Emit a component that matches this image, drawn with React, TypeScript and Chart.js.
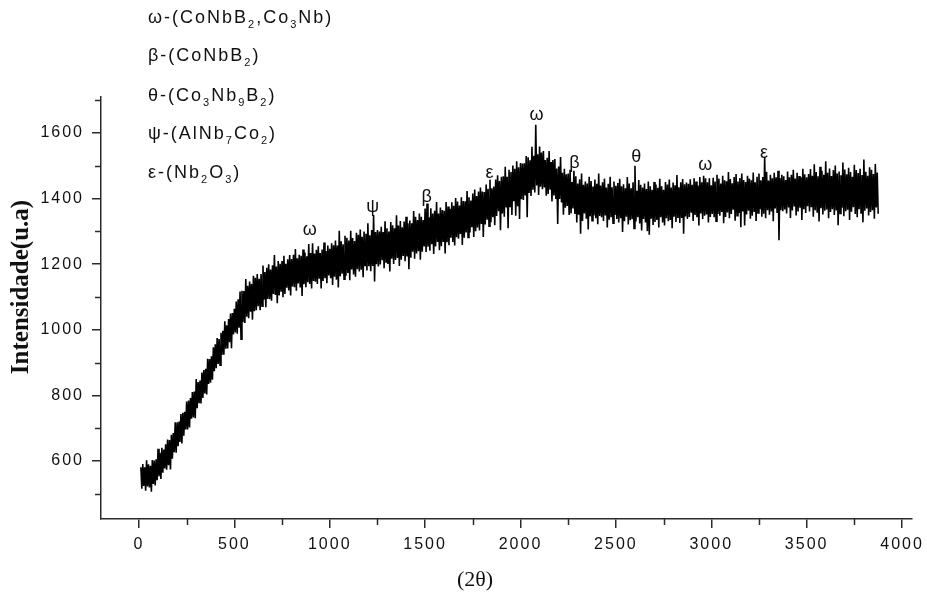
import React, { useEffect, useRef } from 'react';
import { Chart, registerables } from 'chart.js';

Chart.register(...registerables);

// Sample grid (2θ): series A at X_START + i*X_STEP, series B half a step later
const X_START = 10;
const X_STEP = 10;

// Intensity (u.a): samples at 10, 20, 30, ...
const samplesA: number[] = [
  // 10 - 500
  581,591,581,602,590,585,603,601,605,637,
  625,640,635,651,665,664,680,685,718,718,
  720,743,747,750,781,784,792,810,812,850,
  841,845,870,877,881,912,911,919,947,956,
  975,972,991,997,1026,1014,1033,1050,1051,1064,
  // 510 - 1000
  1086,1093,1117,1119,1118,1155,1134,1147,1140,1165,
  1159,1170,1156,1170,1196,1176,1189,1200,1184,1197,
  1228,1193,1210,1201,1210,1226,1201,1215,1228,1216,
  1229,1246,1218,1229,1226,1245,1236,1224,1262,1234,
  1264,1233,1244,1255,1234,1245,1266,1240,1257,1247,
  // 1010 - 1500
  1264,1258,1272,1257,1302,1270,1261,1287,1281,1272,
  1302,1280,1271,1296,1290,1306,1284,1300,1293,1325,
  1288,1304,1350,1298,1304,1300,1314,1298,1331,1310,
  1300,1329,1319,1310,1349,1318,1332,1313,1330,1345,
  1325,1333,1325,1362,1345,1335,1355,1345,1335,1370,
  // 1510 - 2000
  1385,1343,1371,1355,1363,1390,1355,1373,1365,1363,
  1390,1376,1369,1389,1378,1402,1391,1379,1404,1393,
  1392,1423,1404,1394,1416,1428,1408,1422,1434,1422,
  1420,1443,1430,1458,1432,1437,1458,1471,1454,1467,
  1468,1497,1467,1488,1481,1501,1491,1514,1496,1509,
  // 2010 - 2500
  1507,1508,1530,1526,1517,1558,1531,1625,1535,1559,
  1541,1545,1518,1525,1545,1512,1518,1521,1492,1498,
  1527,1479,1491,1474,1477,1488,1451,1485,1468,1446,
  1459,1477,1442,1452,1446,1467,1454,1437,1458,1445,
  1477,1440,1450,1461,1434,1445,1467,1435,1452,1439,
  // 2510 - 3000
  1448,1461,1438,1444,1432,1466,1446,1432,1450,1500,
  1424,1457,1442,1434,1446,1429,1452,1438,1427,1451,
  1443,1433,1461,1438,1427,1451,1443,1458,1434,1449,
  1441,1472,1435,1450,1460,1444,1449,1445,1459,1442,
  1462,1452,1440,1466,1450,1470,1462,1450,1462,1441,
  // 3010 - 3500
  1464,1452,1473,1461,1446,1470,1456,1453,1481,1460,
  1447,1466,1475,1452,1463,1477,1457,1451,1470,1461,
  1456,1480,1450,1467,1477,1456,1466,1528,1482,1455,
  1473,1462,1479,1465,1485,1463,1473,1468,1457,1483,
  1465,1473,1488,1461,1479,1469,1465,1491,1474,1465,
  // 3510 - 3870
  1475,1490,1470,1505,1481,1468,1497,1485,1473,1514,
  1479,1492,1469,1487,1501,1477,1483,1471,1510,1489,
  1474,1494,1481,1467,1503,1487,1478,1491,1472,1519,
  1482,1470,1496,1488,1475,1506,1480,
];

// Intensity (u.a): samples at 15, 25, 35, ...
const samplesB: number[] = [
  // 15 - 505
  515,524,509,522,519,506,530,525,541,553,
  545,564,577,573,587,574,607,627,625,645,
  658,653,677,696,696,702,729,733,730,761,
  776,775,792,806,803,835,839,848,874,883,
  896,892,923,924,942,943,962,944,986,992,
  // 515 - 1005
  988,1006,971,1023,1021,1040,1035,1055,1031,1057,
  1060,1072,1060,1072,1092,1069,1094,1093,1089,1109,
  1106,1081,1105,1116,1099,1109,1128,1120,1105,1132,
  1130,1119,1141,1129,1103,1139,1130,1145,1140,1126,
  1149,1147,1140,1156,1126,1149,1157,1142,1166,1157,
  // 1015 - 1505
  1137,1162,1153,1129,1163,1171,1154,1165,1173,1151,
  1184,1169,1162,1185,1178,1183,1160,1196,1181,1194,
  1179,1195,1147,1200,1193,1199,1212,1188,1207,1201,
  1178,1217,1201,1213,1219,1195,1214,1225,1209,1224,
  1185,1220,1238,1217,1233,1240,1214,1238,1254,1237,
  // 1515 - 2005
  1253,1241,1261,1231,1254,1268,1243,1255,1268,1233,
  1267,1258,1281,1268,1257,1282,1278,1292,1259,1281,
  1297,1282,1297,1313,1283,1301,1312,1303,1323,1283,
  1321,1336,1316,1328,1343,1319,1347,1362,1304,1355,
  1345,1373,1310,1376,1350,1392,1348,1377,1338,1398,
  // 2015 - 2505
  1396,1410,1343,1417,1408,1427,1419,1440,1411,1436,
  1429,1434,1409,1414,1427,1391,1410,1399,1323,1399,
  1388,1351,1372,1378,1350,1355,1370,1353,1327,1351,
  1293,1332,1355,1339,1306,1346,1333,1349,1340,1322,
  1347,1343,1332,1349,1312,1336,1343,1325,1350,1338,
  // 2515 - 3005
  1327,1340,1298,1331,1345,1321,1334,1337,1309,1330,
  1343,1324,1303,1338,1327,1301,1290,1339,1320,1329,
  1335,1312,1343,1327,1318,1340,1331,1335,1310,1345,
  1329,1341,1326,1341,1293,1346,1338,1344,1357,1332,
  1350,1343,1318,1355,1338,1348,1352,1327,1344,1353,
  // 3015 - 3505
  1343,1331,1353,1348,1359,1325,1344,1358,1340,1353,
  1366,1333,1348,1356,1313,1361,1318,1352,1363,1339,
  1348,1359,1332,1356,1368,1345,1354,1340,1365,1351,
  1361,1331,1370,1356,1273,1365,1362,1367,1355,1373,
  1341,1364,1376,1349,1361,1372,1335,1368,1356,1377,
  // 3515 - 3875
  1361,1374,1345,1365,1357,1330,1371,1352,1363,1367,
  1340,1359,1368,1350,1364,1319,1355,1372,1346,1362,
  1366,1335,1360,1374,1353,1343,1368,1356,1328,1363,
  1370,1349,1359,1365,1339,1373,1354,
];

const xTicks = [0, 500, 1000, 1500, 2000, 2500, 3000, 3500, 4000];
const xMinorTicks = [250, 750, 1250, 1750, 2250, 2750, 3250, 3750];
const yTicks = [600, 800, 1000, 1200, 1400, 1600];
const yMinorTicks = [500, 700, 900, 1100, 1300, 1500, 1700];

// Phase legend lines: [text, isSubscript]
const phaseLegend: [string, boolean][][] = [
  [['ω-(CoNbB', false], ['2', true], [',Co', false], ['3', true], ['Nb)', false]],
  [['β-(CoNbB', false], ['2', true], [')', false]],
  [['θ-(Co', false], ['3', true], ['Nb', false], ['9', true], ['B', false], ['2', true], [')', false]],
  [['ψ-(AlNb', false], ['7', true], ['Co', false], ['2', true], [')', false]],
  [['ε-(Nb', false], ['2', true], ['O', false], ['3', true], [')', false]],
];

// Peak markers (2θ position, label height in u.a)
const peakX = [895, 1225, 1508, 1838, 2084, 2283, 2607, 2969, 3277];
const peakY = [1304, 1374, 1405, 1478, 1655, 1509, 1527, 1502, 1539];
const peakText = ['ω', 'ψ', 'β', 'ε', 'ω', 'β', 'θ', 'ω', 'ε'];

const AXIS_COLOR = '#2b2b2b';
const TEXT_COLOR = '#111111';
const SANS = '"Liberation Sans", Arial, sans-serif';
const SERIF = '"Liberation Serif", "Times New Roman", serif';

const decorPlugin = {
  id: 'decor',
  beforeDraw(chart: any) {
    chart.ctx.letterSpacing = '2px';
  },
  beforeDatasetsDraw(chart: any) {
    chart.ctx.letterSpacing = '0px';
  },
  afterDraw(chart: any) {
    const ctx = chart.ctx as CanvasRenderingContext2D;
    const xs = chart.scales.x;
    const ys = chart.scales.y;
    const area = chart.chartArea;
    ctx.save();
    // minor ticks
    ctx.strokeStyle = AXIS_COLOR;
    ctx.lineWidth = 1.5;
    ctx.beginPath();
    for (const v of xMinorTicks) {
      const px = Math.round(xs.getPixelForValue(v)) + 0.5;
      ctx.moveTo(px, area.bottom);
      ctx.lineTo(px, area.bottom + 6);
    }
    for (const v of yMinorTicks) {
      const py = Math.round(ys.getPixelForValue(v)) + 0.5;
      ctx.moveTo(area.left, py);
      ctx.lineTo(area.left - 6, py);
    }
    ctx.stroke();

    // phase legend
    ctx.fillStyle = TEXT_COLOR;
    ctx.textAlign = 'left';
    ctx.textBaseline = 'alphabetic';
    ctx.letterSpacing = '2px';
    const baselines = [23, 61, 101, 139, 178];
    phaseLegend.forEach((line, i) => {
      let x = 148;
      for (const [t, sub] of line) {
        ctx.font = sub ? `11px ${SANS}` : `18px ${SANS}`;
        ctx.fillText(t, x, sub ? baselines[i] + 5 : baselines[i]);
        x += ctx.measureText(t).width;
      }
    });

    // peak labels
    ctx.letterSpacing = '0px';
    ctx.font = `18px ${SANS}`;
    ctx.textAlign = 'center';
    ctx.textBaseline = 'middle';
    peakText.forEach((t, i) => {
      ctx.fillText(t, xs.getPixelForValue(peakX[i]), ys.getPixelForValue(peakY[i]));
    });

    // axis titles
    ctx.font = `22px ${SERIF}`;
    ctx.fillText('(2θ)', 475, 580);
    ctx.save();
    ctx.translate(22, 287);
    ctx.rotate(-Math.PI / 2);
    ctx.font = `bold 25px ${SERIF}`;
    ctx.fillText('Intensidade(u.a)', 0, 0);
    ctx.restore();
    ctx.restore();
  },
};

export default function App() {
  const canvasRef = useRef<HTMLCanvasElement | null>(null);

  useEffect(() => {
    const canvas = canvasRef.current;
    if (!canvas) return;
    const points: { x: number; y: number }[] = [];
    samplesA.forEach((v, i) => {
      points.push({ x: X_START + i * X_STEP, y: v });
      if (i < samplesB.length) {
        points.push({ x: X_START + i * X_STEP + X_STEP / 2, y: samplesB[i] });
      }
    });
    const chart = new Chart(canvas, {
      type: 'line',
      data: {
        datasets: [
          {
            data: points,
            borderColor: '#000000',
            borderWidth: 1.6,
            pointRadius: 0,
            tension: 0,
            fill: false,
          },
        ],
      },
      options: {
        animation: false,
        responsive: false,
        devicePixelRatio: 1,
        layout: { padding: { top: 97, right: 14, left: 0, bottom: 0 } },
        plugins: { legend: { display: false }, tooltip: { enabled: false } },
        scales: {
          x: {
            type: 'linear',
            min: -199,
            max: 4052,
            afterBuildTicks: (s: any) => {
              s.ticks = xTicks.map((v) => ({ value: v }));
            },
            afterFit: (s: any) => {
              s.height = 73;
            },
            grid: {
              display: true,
              drawOnChartArea: false,
              drawTicks: true,
              tickLength: 9,
              color: AXIS_COLOR,
              lineWidth: 1.5,
            },
            border: { display: true, color: AXIS_COLOR, width: 1.5 },
            ticks: {
              autoSkip: false,
              maxRotation: 0,
              padding: 7,
              color: TEXT_COLOR,
              font: { family: SANS, size: 16 },
              callback: (v: any) => String(v),
            },
          },
          y: {
            type: 'linear',
            min: 423,
            max: 1710,
            afterBuildTicks: (s: any) => {
              s.ticks = yTicks.map((v) => ({ value: v }));
            },
            afterFit: (s: any) => {
              s.width = 101;
            },
            grid: {
              display: true,
              drawOnChartArea: false,
              drawTicks: true,
              tickLength: 9,
              color: AXIS_COLOR,
              lineWidth: 1.5,
            },
            border: { display: true, color: AXIS_COLOR, width: 1.5 },
            ticks: {
              autoSkip: false,
              padding: 8,
              color: TEXT_COLOR,
              font: { family: SANS, size: 16 },
              callback: (v: any) => String(v),
            },
          },
        },
      },
      plugins: [decorPlugin],
    });
    return () => chart.destroy();
  }, []);

  return (
    <div style={{ position: 'absolute', left: 0, top: 0, width: 927, height: 592, background: '#ffffff' }}>
      <canvas ref={canvasRef} width={927} height={592} style={{ display: 'block', width: 927, height: 592 }} />
    </div>
  );
}
